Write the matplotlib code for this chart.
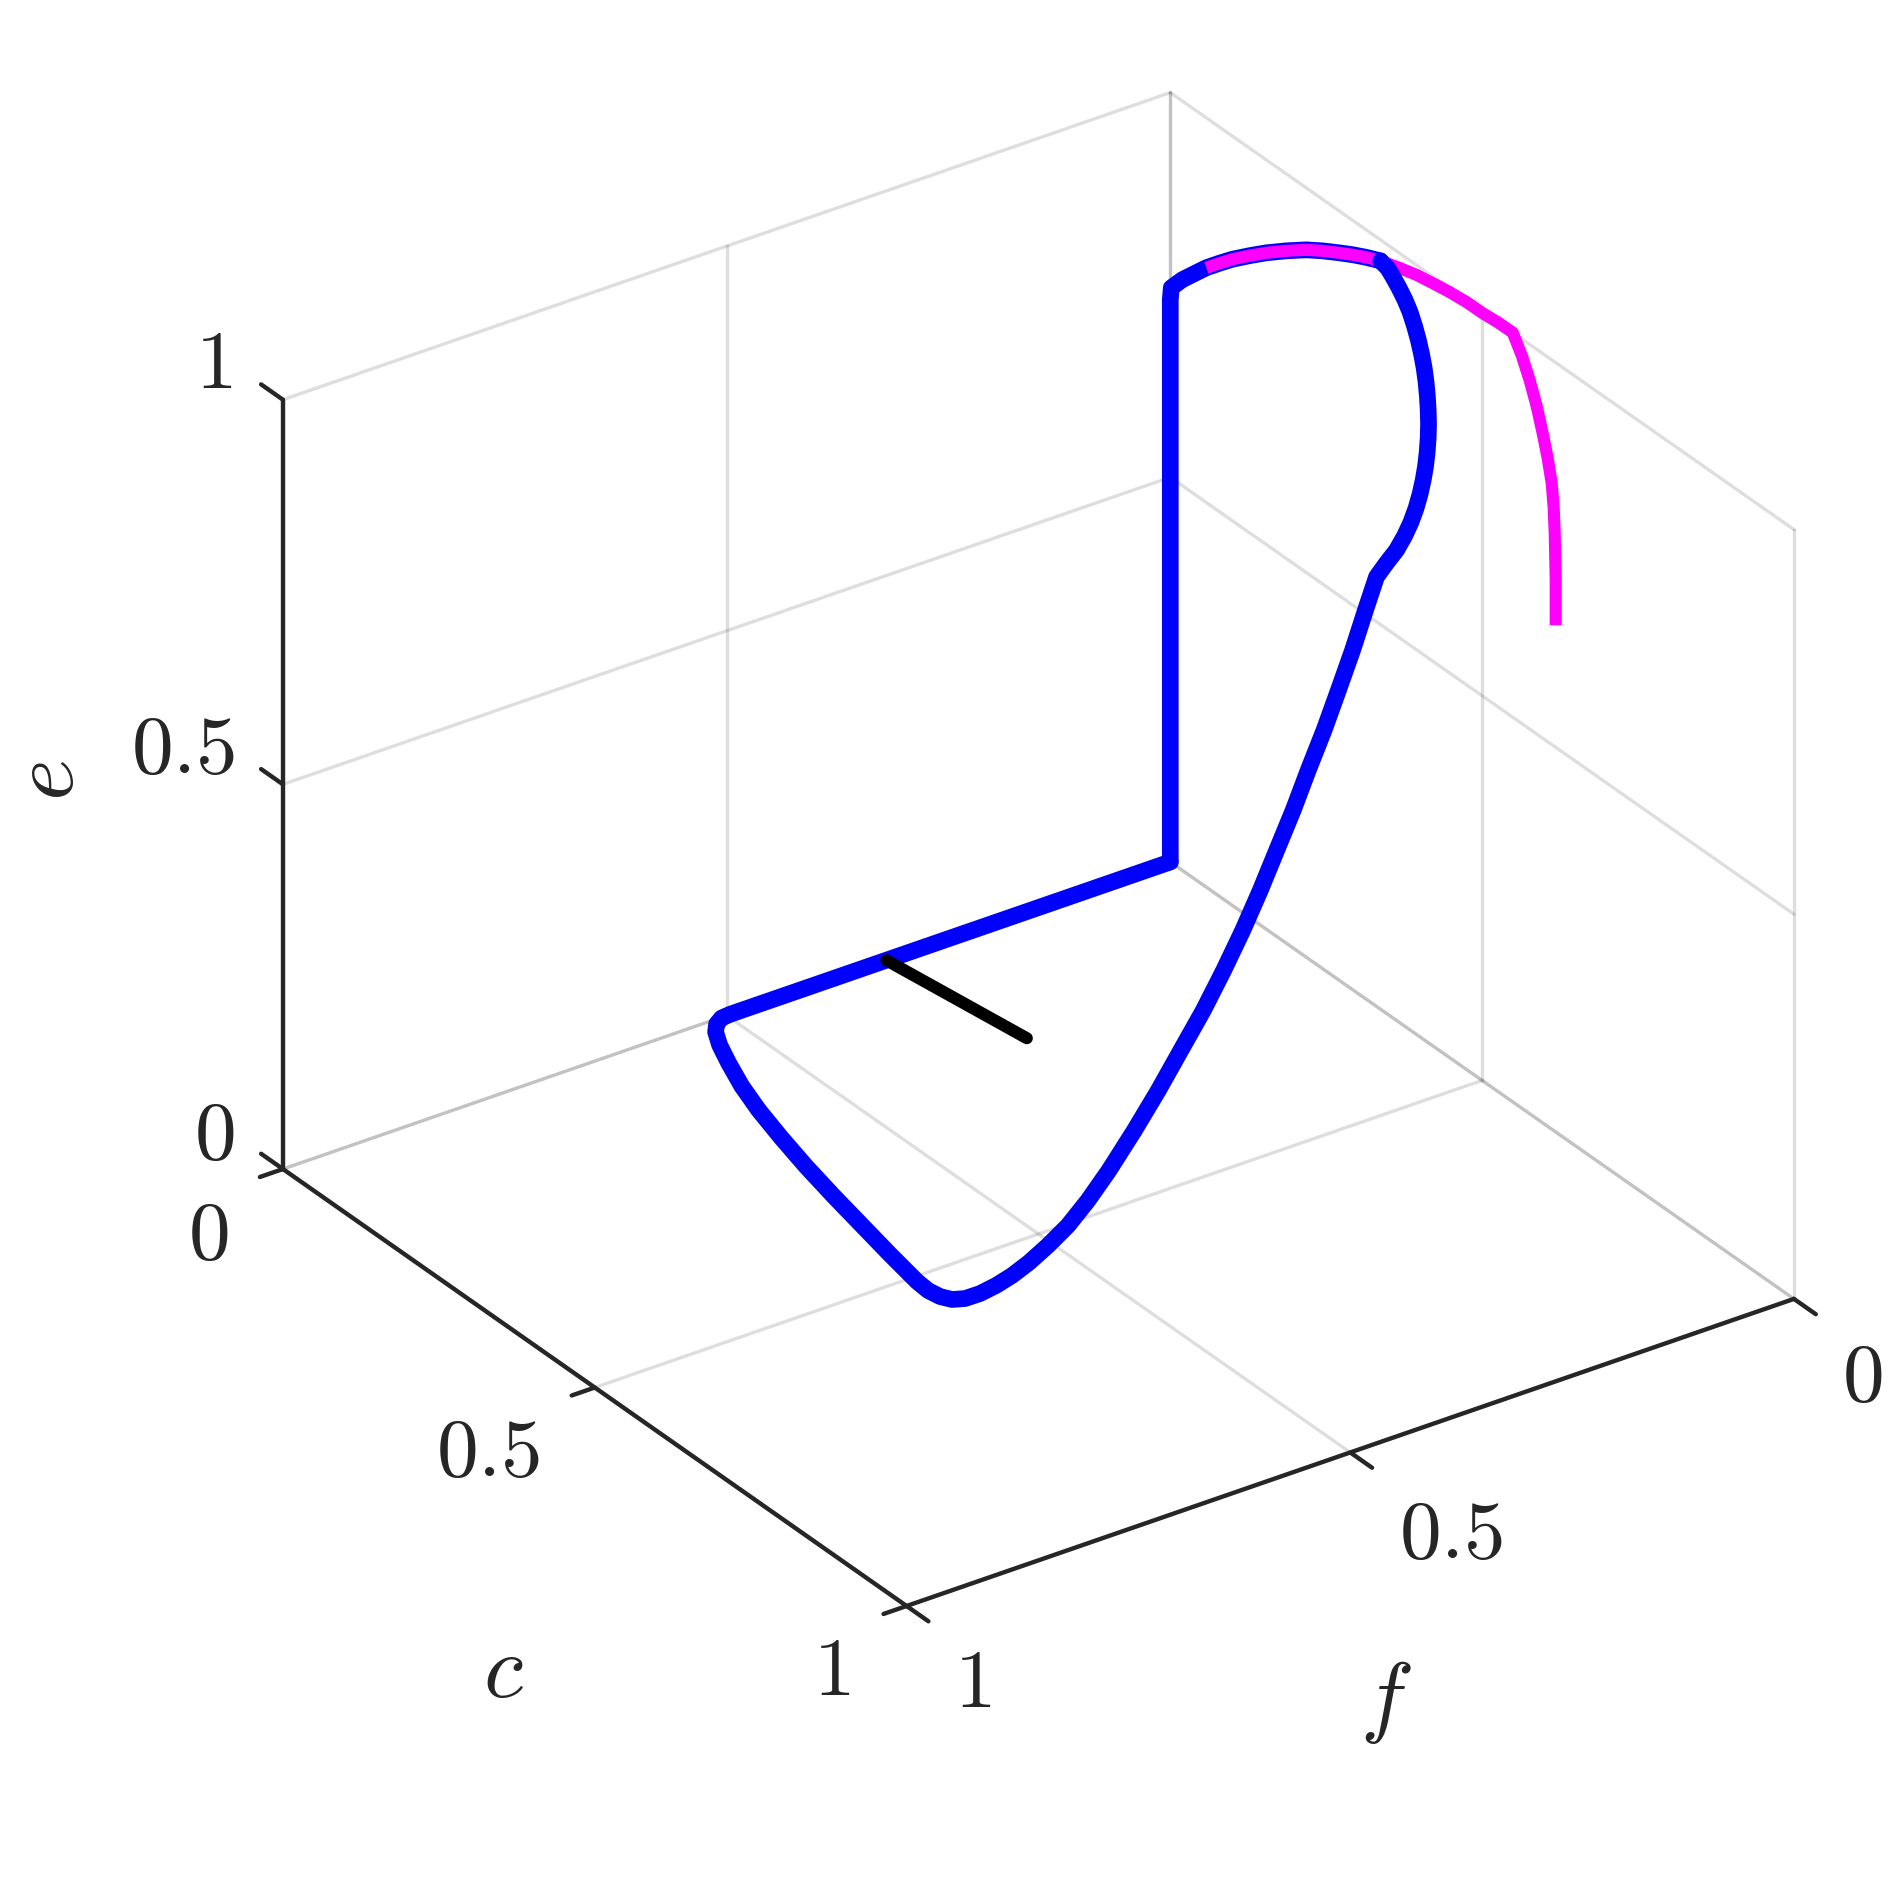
import matplotlib
matplotlib.use('Agg')
import matplotlib.pyplot as plt

plt.rcParams['mathtext.fontset'] = 'cm'

grid_ticks = [0, 0.5, 1]
tick_labels = ['0', '0.5', '1']

# vertical edge and first part of the top arc
c_up = [0, 0, 0.0016, 0.0193, 0.0385, 0.0578, 0.0787, 0.0995, 0.1268, 0.1541, 0.1862, 0.2183,
        0.244, 0.2713, 0.2937, 0.3146, 0.3371]
f_up = [0] * 17
e_up = [0, 0.731, 0.7473, 0.7678, 0.7865, 0.8052, 0.8229, 0.8399, 0.86, 0.8793, 0.9001, 0.9196,
        0.9329, 0.9458, 0.9559, 0.9645, 0.9727]

# floor line and loop
c_loop = [0, 0, 0, 0.0012, 0.0077, 0.0195, 0.0416, 0.074, 0.1162, 0.1621, 0.2152, 0.273,
          0.3339, 0.3933, 0.4527, 0.5084, 0.5281, 0.5437, 0.5546, 0.56, 0.5603]
f_loop = [0, 0.4854, 0.4961, 0.5065, 0.5167, 0.5261, 0.5371, 0.5497, 0.5646, 0.5777, 0.5902, 0.6025,
          0.6138, 0.6239, 0.634, 0.6427, 0.6441, 0.6416, 0.6357, 0.6249, 0.6082]
e_loop = [0] * 21

# long curve back up to the f = 0 wall
c_rise = [0.56, 0.5573, 0.556, 0.5509, 0.5474, 0.5438, 0.5348, 0.5258, 0.5144, 0.5006, 0.4941,
          0.4841, 0.4719, 0.4573, 0.4409, 0.4247, 0.4067, 0.3889, 0.3766, 0.3634, 0.3486, 0.3307]
f_rise = [0.59, 0.57, 0.55, 0.525, 0.5, 0.475, 0.445, 0.41, 0.375, 0.34, 0.31,
          0.28, 0.25, 0.22, 0.19, 0.16, 0.13, 0.1, 0.075, 0.05, 0.025, 0]
e_rise = [0.003, 0.0065, 0.0146, 0.0239, 0.0379, 0.0584, 0.0803, 0.1133, 0.1449, 0.1751, 0.2115,
          0.246, 0.2789, 0.3106, 0.3413, 0.3723, 0.4032, 0.4322, 0.4677, 0.5015, 0.5354, 0.5584]

# lobe on the f = 0 wall
c_lobe = [0.3467, 0.3628, 0.3756, 0.386, 0.3941, 0.4005, 0.4055, 0.4093, 0.4119, 0.4135, 0.4141,
          0.4135, 0.4122, 0.4101, 0.4071, 0.4029, 0.3978, 0.3917, 0.3844, 0.3764, 0.3668, 0.3571,
          0.3483, 0.3371]
f_lobe = [0] * 24
e_lobe = [0.5854, 0.6114, 0.6369, 0.661, 0.6837, 0.7056, 0.7267, 0.7469, 0.7667, 0.7858, 0.8043,
          0.8222, 0.8397, 0.8567, 0.8732, 0.8889, 0.9043, 0.919, 0.9332, 0.9442, 0.9544, 0.9632,
          0.97, 0.9727]

c_mag = [0.0578, 0.0787, 0.0995, 0.1268, 0.1541, 0.1862, 0.2183, 0.244, 0.2713, 0.2937, 0.3146,
         0.3371, 0.3676, 0.3949, 0.4205, 0.4478, 0.4751, 0.5008, 0.5249, 0.549,
         0.5634, 0.5762, 0.5875, 0.5971, 0.6051, 0.6116, 0.6148, 0.6164, 0.618, 0.618]
f_mag = [0] * 30
e_mag = [0.8052, 0.8229, 0.8399, 0.86, 0.8793, 0.9001, 0.9196, 0.9329, 0.9458, 0.9559, 0.9645,
         0.9727, 0.9809, 0.9873, 0.9913, 0.9951, 0.9975, 0.9978, 0.9997, 1.0,
         0.9787, 0.9535, 0.926, 0.8964, 0.8684, 0.8397, 0.8088, 0.7774, 0.717, 0.6585]

c_black = [0, 0.194]
f_black = [0.32, 0.298]
e_black = [0, 0]

fig = plt.figure(figsize=(6.3, 6.3), dpi=300)
ax = fig.add_axes([0.0825, 0.0837, 0.9093, 0.9093], projection='3d', proj_type='ortho',
                  computed_zorder=False)
ax.set_xlim(0, 1, view_margin=0)
ax.set_ylim(1, 0, view_margin=0)
ax.set_zlim(0, 1, view_margin=0)
ax.set_box_aspect((1, 1, 0.815))
ax.view_init(elev=29.5, azim=-35.1)
ax.set_axis_off()

grid_kw = dict(color='#262626', alpha=0.15, lw=0.8, zorder=1)
for t in grid_ticks:
    ax.plot([0, 0], [0, 1], [t, t], **grid_kw)
    ax.plot([0, 1], [0, 0], [t, t], **grid_kw)
    ax.plot([t, t], [0, 0], [0, 1], **grid_kw)
    ax.plot([t, t], [0, 1], [0, 0], **grid_kw)
    ax.plot([0, 0], [t, t], [0, 1], **grid_kw)
    ax.plot([0, 1], [t, t], [0, 0], **grid_kw)

axis_kw = dict(color='#262626', lw=1.05, zorder=2, solid_capstyle='round')
ax.plot([0, 0], [1, 1], [0, 1], **axis_kw)
ax.plot([0, 1], [1, 1], [0, 0], **axis_kw)
ax.plot([1, 1], [1, 0], [0, 0], **axis_kw)
for t in grid_ticks:
    ax.plot([0, -0.035], [1, 1], [t, t], **axis_kw)
    ax.plot([t, t], [1, 1.026], [0, 0], **axis_kw)
    ax.plot([1, 1.035], [t, t], [0, 0], **axis_kw)

blue_kw = dict(color='#0000ff', lw=4.0, solid_joinstyle='round', solid_capstyle='round')
ax.plot(c_up, f_up, e_up, zorder=3, **blue_kw)
ax.plot(c_mag, f_mag, e_mag, color='#ff00ff', lw=2.9, zorder=4,
        solid_joinstyle='round', solid_capstyle='butt')
ax.plot(c_loop + c_rise + c_lobe, f_loop + f_rise + f_lobe, e_loop + e_rise + e_lobe,
        zorder=5, **blue_kw)
ax.plot(c_black, f_black, e_black, color='black', lw=2.9, zorder=6,
        solid_joinstyle='round', solid_capstyle='round')

# tick labels and axis names are placed by figure fraction
tick_kw = dict(fontsize=20, color='#262626', ha='center', va='center')
name_kw = dict(fontsize=21.6, color='#262626', ha='center', va='center')
e_label_pos = [(178, 942), (152, 622), (177, 302)]
c_label_pos = [(173, 1025), (405, 1205), (690, 1387)]
f_label_pos = [(1545, 1143), (1204, 1273), (807, 1397)]
for pos_list in [e_label_pos, c_label_pos, f_label_pos]:
    for (x, y), lab in zip(pos_list, tick_labels):
        fig.text(x / 1568, 1 - y / 1568, f'${lab}$', **tick_kw)
fig.text(40 / 1568, 1 - 648 / 1568, '$e$', rotation=90, **name_kw)
fig.text(418 / 1568, 1 - 1387 / 1568, '$c$', **name_kw)
fig.text(1150 / 1568, 1 - 1412 / 1568, '$f$', **name_kw)

fig.savefig('out.png', dpi=300)
